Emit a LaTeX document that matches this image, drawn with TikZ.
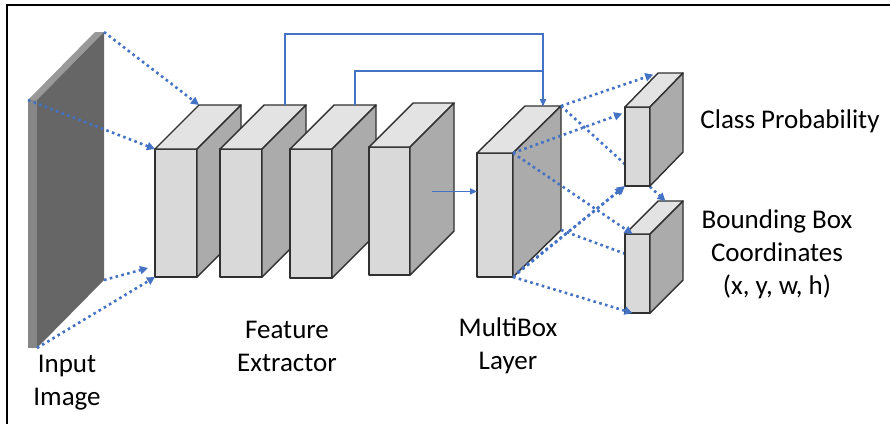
\documentclass[tikz,border=0pt]{standalone}
\usepackage{fontspec}
\setmainfont{Carlito}
\usepackage{tikz}
\usetikzlibrary{arrows.meta,calc}

\definecolor{linkblue}{HTML}{4472C4}
\definecolor{facefront}{HTML}{D9D9D9}
\definecolor{facetop}{HTML}{E3E3E3}
\definecolor{faceside}{HTML}{ABABAB}
\definecolor{edgegray}{HTML}{303030}

% corners of a cuboid layer: name, x, y (front top left), width, height, depth x, depth y
\newcommand{\layerpoints}[7]{%
    \path (#2,#3) coordinate (#1_ftl) ++(#4,0) coordinate (#1_ftr)
          ++(0,#5) coordinate (#1_fbr) ++(-#4,0) coordinate (#1_fbl);
    \path (#1_ftl) ++(#6,#7) coordinate (#1_btl) ++(#4,0) coordinate (#1_btr)
          ++(0,#5) coordinate (#1_bbr);
}
% faces of a cuboid layer
\newcommand{\layerbox}[1]{%
    \path[frontface] (#1_ftl) rectangle (#1_fbr);
    \path[topface] (#1_ftl) -- (#1_btl) -- (#1_btr) -- (#1_ftr) -- cycle;
    \path[sideface] (#1_ftr) -- (#1_btr) -- (#1_bbr) -- (#1_fbr) -- cycle;
}

\begin{document}
\begin{tikzpicture}[
    x=1pt, y=-1pt,
    frontface/.style={fill=facefront, draw=edgegray, line width=1.4pt, line join=round},
    topface/.style={fill=facetop, draw=edgegray, line width=1.4pt, line join=round},
    sideface/.style={fill=faceside, draw=edgegray, line width=1.4pt, line join=round},
    flow/.style={linkblue, line width=2.6pt, dash pattern=on 2.6pt off 3.4pt, -{Triangle[length=8pt,width=8pt]}},
    hidden/.style={linkblue, line width=2.6pt, dash pattern=on 2.6pt off 3.4pt},
    skiplink/.style={linkblue, line width=1.4pt, -{Triangle[length=7pt,width=6pt]}},
    boxtext/.style={align=center, inner sep=0pt, font=\fontsize{27}{33}\selectfont}
]
    \useasboundingbox (0,0) rectangle (890,424);

    % frame (cut off at right and bottom)
    \draw[black, line width=2.6pt] (7,424) -- (7,5) -- (890,5);

    % corner points of all layers
    \layerpoints{img}{28}{100}{9}{248}{67}{-68}
    \layerpoints{b1}{155}{149}{42}{128}{44}{-44}
    \layerpoints{b2}{220}{149}{42}{128}{44}{-44}
    \layerpoints{b3}{290}{149}{42}{129}{44}{-44}
    \layerpoints{b4}{369}{147}{41}{128}{44}{-44}
    \layerpoints{mb}{477}{153}{36}{124}{48}{-47}
    \layerpoints{cls}{625}{107}{25}{79}{33}{-34}
    \layerpoints{bb}{625}{234}{25}{79}{33}{-33}

    % Input image slab
    \begin{scope}[
        frontface/.style={fill=black!47},
        topface/.style={fill=black!40},
        sideface/.style={fill=black!60}
    ]
        \layerbox{img}
    \end{scope}

    % --- Feature extractor ---
    \layerbox{b1}
    \layerbox{b2}
    \layerbox{b3}
    \layerbox{b4}

    % MultiBox layer
    \layerbox{mb}

    % image to first layer
    \coordinate (b1_low) at (148,268);
    \draw[flow] (img_btr) -- (b1_btl);
    \draw[flow] (img_ftl) -- (b1_ftl);
    \draw[flow] (img_bbr) -- (b1_low);
    \draw[flow] (img_fbr) -- (b1_fbl);

    % skip connections into the MultiBox layer
    \coordinate (b2_top) at ($(b2_btl)!0.5!(b2_btr)$);
    \coordinate (b3_top) at ($(b3_btl)!0.5!(b3_btr)$);
    \coordinate (mb_top) at ($(mb_btl)!0.5!(mb_btr)$);
    \draw[skiplink] (b2_top) -- ++(0,-71) -| (mb_top);
    \draw[skiplink] (b3_top) -- ++(0,-34) -| (mb_top);

    \coordinate (b4_out) at ($(b4_ftr)!0.5!(b4_bbr)$);
    \coordinate (mb_in) at ($(mb_ftl)!0.31!(mb_fbl)$);
    \draw[skiplink] (b4_out |- mb_in) -- (mb_in);

    % --- Outputs (lines that pass behind the boxes first) ---
    \coordinate (bb_hit) at ($(bb_ftl)!0.25!(bb_fbl)$);
    \draw[hidden] (mb_bbr) -- (bb_hit);

    \layerbox{bb}

    \coordinate (bb_back) at ($(bb_btl)!0.3!(bb_btr)$);
    \draw[flow] (mb_btr) -- (bb_back);

    \layerbox{cls}

    \coordinate (cls_hit) at ($(cls_ftl)!0.07!(cls_fbl)$);
    \coordinate (bb_front) at ($(bb_ftl)!0.3!(bb_ftr)$);
    \coordinate (bb_low) at ($(bb_fbl)!0.3!(bb_fbr)$);
    \coordinate (mb_low) at ($(mb_fbr)!0.1!(mb_bbr)$);
    \draw[flow, shorten >=5pt] (mb_btr) -- (cls_btl);
    \draw[flow, shorten >=3pt] (mb_ftr) -- (cls_hit);
    \draw[flow] (mb_ftr) -- (bb_front);
    \draw[flow, shorten >=2pt] (mb_fbr) -- (cls_fbl);
    \draw[flow] (mb_low) -- (cls_fbl);
    \draw[flow] (mb_fbr) -- (bb_low);

    % labels
    \node[boxtext] (lbl_input) at (67,383) {Input\\Image};
    \node[boxtext] (lbl_feature) at (287,346) {Feature\\Extractor};
    \node[boxtext] (lbl_multibox) at (508,346) {MultiBox\\Layer};
    \node[boxtext] (lbl_class) at (790,121) {Class Probability};
    \node[boxtext] (lbl_bbox) at (777,254) {Bounding Box\\Coordinates\\(x, y, w, h)};
\end{tikzpicture}
\end{document}
